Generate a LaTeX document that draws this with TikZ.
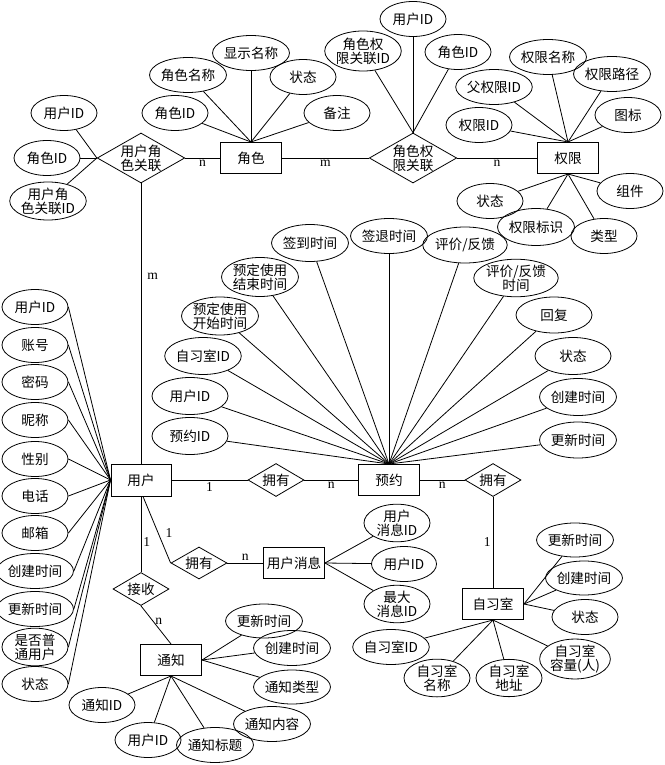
\documentclass[tikz,border=0pt]{standalone}
\usepackage{fontspec}
\setmainfont{Liberation Serif}
\newfontfamily\cjk{Noto Sans CJK SC}
\usetikzlibrary{shapes.geometric}

\begin{document}
\begin{tikzpicture}[
  x=1pt, y=-1pt,
  font=\cjk\fontsize{13.6}{14}\selectfont,
  ent/.style={draw, line width=1pt, minimum width=61pt, minimum height=31pt, inner sep=0pt},
  rel/.style={draw, diamond, aspect=1.75, inner sep=0pt, align=center, line width=0.8pt,
    minimum width=56pt, minimum height=33pt},
  bigrel/.style={rel, minimum width=87pt, minimum height=50pt},
  attr/.style={draw, ellipse, minimum width=66pt, minimum height=35pt, inner sep=0pt,
    align=center, line width=0.8pt},
  wide/.style={attr, minimum width=76pt, minimum height=37pt},
  card/.style={font=\rmfamily\fontsize{13.6}{14}\selectfont, inner sep=2pt},
  link/.style={line width=0.8pt},
]
\useasboundingbox (0,0) rectangle (664,765);
% Roles and permissions.
\node[bigrel] (UR) at (141,158) {用户角\\色关联};
\node[ent] (R) at (251,158) {角色};
\node[bigrel] (RP) at (413,158) {角色权\\限关联};
\node[ent] (P) at (568,158) {权限};
\node[attr] (UR1) at (64,113) {用户ID};
\node[attr] (UR2) at (47,158) {角色ID};
\node[attr, minimum height=38pt] (UR3) at (48,201) {用户角\\色关联ID};
\node[attr] (R1) at (175,113) {角色ID};
\node[attr] (R2) at (188,75) {角色名称};
\node[attr] (R3) at (251,53) {显示名称};
\node[attr] (R4) at (303,77) {状态};
\node[attr] (R5) at (337,113) {备注};
\node[attr] (RP1) at (413,19) {用户ID};
\node[attr, minimum height=40pt] (RP2) at (363,51) {角色权\\限关联ID};
\node[attr] (RP3) at (458,52) {角色ID};
\node[attr] (P1) at (479,125) {权限ID};
\node[attr] (P2) at (494,87) {父权限ID};
\node[attr] (P3) at (548,57) {权限名称};
\node[attr] (P4) at (612,74) {权限路径};
\node[attr] (P5) at (628,115) {图标};
\node[attr] (P6) at (630,191) {组件};
\node[attr] (P7) at (604,236) {类型};
\node[attr, minimum height=37pt] (P8) at (536,227) {权限标识};
\node[attr] (P9) at (490,201) {状态};
\draw[link] (UR.west) -- (UR1);
\draw[link] (UR.west) -- (UR2);
\draw[link] (UR.west) -- (UR3);
\draw[link] (R.north) -- (R1);
\draw[link] (R.north) -- (R2);
\draw[link] (R.north) -- (R3);
\draw[link] (R.north) -- (R4);
\draw[link] (R.north) -- (R5);
\draw[link] (RP.north) -- (RP1);
\draw[link] (RP.north) -- (RP2);
\draw[link] (RP.north) -- (RP3);
\draw[link] (P.north) -- (P1);
\draw[link] (P.north) -- (P2);
\draw[link] (P.north) -- (P3);
\draw[link] (P.north) -- (P4);
\draw[link] (P.north) -- (P5);
\draw[link] (P.south) -- (P6);
\draw[link] (P.south) -- (P7);
\draw[link] (P.south) -- (P8);
\draw[link] (P.south) -- (P9);
\draw[link] (UR) -- node[card, below]{n} (R);
\draw[link] (R) -- node[card, below]{m} (RP);
\draw[link] (RP) -- node[card, below]{n} (P);
% Users.
\node[ent, minimum width=60pt, minimum height=32pt] (U) at (141,480) {用户};
\node[attr] (U1) at (35,307) {用户ID};
\node[attr] (U2) at (35,345) {账号};
\node[attr] (U3) at (35,382) {密码};
\node[attr] (U4) at (35,420) {昵称};
\node[attr] (U5) at (35,459) {性别};
\node[attr] (U6) at (35,496) {电话};
\node[attr] (U7) at (35,533) {邮箱};
\node[attr] (U8) at (35,571) {创建时间};
\node[attr] (U9) at (35,609) {更新时间};
\node[attr, minimum height=37pt] (U10) at (35,647) {是否普\\通用户};
\node[attr] (U11) at (35,684) {状态};
\draw[link] (U.west) -- (U1.east);
\draw[link] (U.west) -- (U2.east);
\draw[link] (U.west) -- (U3.east);
\draw[link] (U.west) -- (U4.east);
\draw[link] (U.west) -- (U5.east);
\draw[link] (U.west) -- (U6.east);
\draw[link] (U.west) -- (U7.east);
\draw[link] (U.west) -- (U8.east);
\draw[link] (U.west) -- (U9.east);
\draw[link] (U.west) -- (U10.east);
\draw[link] (U.west) -- (U11.east);
\draw[link] (UR) -- node[card, right=4pt, pos=0.33]{m} (U);
% Bookings.
\node[rel] (UB) at (276,480) {拥有};
\node[ent] (B) at (389,480) {预约};
\node[wide] (B1) at (190,436) {预约ID};
\node[wide] (B2) at (190,396) {用户ID};
\node[wide] (B3) at (203,356) {自习室ID};
\node[wide, minimum height=38pt] (B4) at (220,316) {预定使用\\开始时间};
\node[wide, minimum height=39pt] (B5) at (260,277) {预定使用\\结束时间};
\node[wide] (B6) at (310,243) {签到时间};
\node[wide, minimum height=35pt] (B7) at (389,236) {签退时间};
\node[wide, minimum height=36pt] (B8) at (465,245) {评价/反馈};
\node[wide] (B9) at (516,278) {评价/反馈\\时间};
\node[wide, minimum height=36pt] (B10) at (554,315) {回复};
\node[wide] (B11) at (573,356) {状态};
\node[wide] (B12) at (578,397) {创建时间};
\node[wide, minimum height=36pt] (B13) at (578,440) {更新时间};
\draw[link] (B.north) -- (B1);
\draw[link] (B.north) -- (B2);
\draw[link] (B.north) -- (B3);
\draw[link] (B.north) -- (B4);
\draw[link] (B.north) -- (B5);
\draw[link] (B.north) -- (B6);
\draw[link] (B.north) -- (B7);
\draw[link] (B.north) -- (B8);
\draw[link] (B.north) -- (B9);
\draw[link] (B.north) -- (B10);
\draw[link] (B.north) -- (B11);
\draw[link] (B.north) -- (B12);
\draw[link] (B.north) -- (B13);
\draw[link] (U) -- node[card, below]{1} (UB);
\draw[link] (UB) -- node[card, below]{n} (B);
% Study rooms.
\node[rel] (BS) at (493,480) {拥有};
\node[ent] (S) at (493,604) {自习室};
\node[attr, minimum height=34pt] (S1) at (575,540) {更新时间};
\node[attr, minimum height=34pt] (S2) at (584,578) {创建时间};
\node[attr] (S3) at (585,617) {状态};
\node[attr, minimum height=38pt] (S4) at (575,659) {自习室\\容量(人)};
\node[attr] (S5) at (509,678) {自习室\\地址};
\node[attr] (S6) at (437,678) {自习室\\名称};
\node[attr] (S7) at (391,647) {自习室ID};
\draw[link] (S.east) -- (S1);
\draw[link] (S.east) -- (S2);
\draw[link] (S.east) -- (S3);
\draw[link] (S.south) -- (S4);
\draw[link] (S.south) -- (S5);
\draw[link] (S.south) -- (S6);
\draw[link] (S.south) -- (S7);
\draw[link] (B) -- node[card, below]{n} (BS);
\draw[link] (BS) -- node[card, left]{1} (S);
% Messages.
\node[rel, minimum height=32pt] (UM) at (199,563) {拥有};
\node[ent] (M) at (294,563) {用户消息};
\node[attr, minimum height=37pt] (M1) at (397,523) {用户\\消息ID};
\node[attr, minimum width=65pt] (M2) at (404,564) {用户ID};
\node[attr, minimum height=36pt] (M3) at (397,604) {最大\\消息ID};
\draw[link] (M.east) -- (M1);
\draw[link] (M.east) -- (M2);
\draw[link] (M.east) -- (M3);
\draw[link] ([xshift=2pt]U.south) -- node[card, right=5pt, pos=0.55]{1} (UM.west);
\draw[link] (UM) -- node[card, above]{n} (M);
% Notices.
\node[rel] (UN) at (141,589) {接收};
\node[ent] (N) at (171,660) {通知};
\node[attr, minimum height=34pt] (N1) at (264,621) {更新时间};
\node[attr, minimum width=65pt] (N2) at (292,648) {创建时间};
\node[attr, minimum width=65pt, minimum height=34pt] (N3) at (292,687) {通知类型};
\node[attr] (N4) at (272,724) {通知内容};
\node[attr] (N5) at (215,745) {通知标题};
\node[attr] (N6) at (148,740) {用户ID};
\node[attr] (N7) at (102,705) {通知ID};
\draw[link] (N.east) -- (N1);
\draw[link] (N.east) -- (N2);
\draw[link] (N.east) -- (N3);
\draw[link] (N.south) -- (N4);
\draw[link] (N.south) -- (N5);
\draw[link] (N.south) -- (N6);
\draw[link] (N.south) -- (N7);
\draw[link] (U.south) -- node[card, right, pos=0.6]{1} (UN.north);
\draw[link] (UN.south) -- node[card, right, pos=0.4]{n} (N.north);
\end{tikzpicture}
\end{document}
